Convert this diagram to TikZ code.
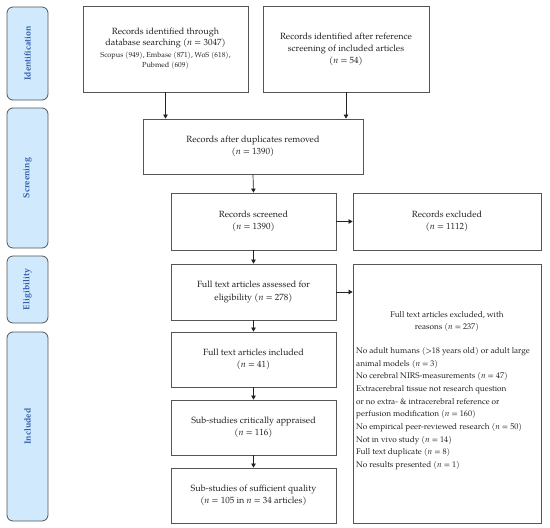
\documentclass[tikz,border=0pt]{standalone}
\usepackage{fontspec}
\setmainfont{TeX Gyre Pagella}
\usetikzlibrary{arrows.meta}
\definecolor{sidefill}{HTML}{D0E9FC}
\definecolor{sidetext}{HTML}{2F5AA8}
\definecolor{edge}{HTML}{555555}
\definecolor{ink}{HTML}{222222}
\tikzset{
  box/.style={draw=edge, line width=0.8pt, fill=white, align=center, text=ink,
    font=\fontsize{9}{12.6}\selectfont, inner sep=1pt},
  side/.style={draw=edge, line width=0.8pt, fill=sidefill, rounded corners=6pt,
    minimum width=41pt},
  sidetxt/.style={rotate=90, text=sidetext, font=\fontsize{8.8}{10}\selectfont\bfseries},
  flow/.style={draw=ink, line width=0.7pt, -{Triangle[length=4pt,width=4.5pt]}},
  plain/.style={align=center, text=ink, font=\fontsize{8.2}{12.6}\selectfont, inner sep=0pt},
  list/.style={align=left, text=ink, font=\fontsize{8.2}{12.7}\selectfont, inner sep=0pt}
}
\begin{document}
\begin{tikzpicture}[x=1pt,y=-1pt]
\useasboundingbox (0,0) rectangle (550,528);
% side labels
\node[side, minimum height=93pt] (s1) at (27.5,53.5) {};
\node[sidetxt] (s1t) at (s1.center) {Identification};
\node[side, minimum height=140pt] (s2) at (27.5,178) {};
\node[sidetxt] (s2t) at (s2.center) {Screening};
\node[side, minimum height=67pt] (s3) at (27.5,289.5) {};
\node[sidetxt] (s3t) at (s3.center) {Eligibility};
\node[side, minimum height=189pt] (s4) at (27.5,426.5) {};
\node[sidetxt] (s4t) at (s4.center) {Included};
% boxes
\node[box, minimum width=165pt, minimum height=86pt, font=\fontsize{9}{10.8}\selectfont] (b1) at (165.5,49) {Records identified through\\database searching (\textit{n} = 3047)\\[0.6pt]{\fontsize{7.3}{11}\selectfont Scopus (949), Embase (871), WoS (618),}\\[-0.2pt]{\fontsize{7.3}{11}\selectfont Pubmed (609)}};
\node[box, minimum width=166pt, minimum height=86pt, font=\fontsize{9}{12}\selectfont] (b2) at (346,49) {Records identified after reference\\screening of included articles\\(\textit{n} = 54)};
\node[box, minimum width=220pt, minimum height=55pt] (b3) at (253,146.5) {Records after duplicates removed\\(\textit{n} = 1390)};
\node[box, minimum width=165pt, minimum height=57pt] (b4) at (253.5,221.5) {Records screened\\(\textit{n} = 1390)};
\node[box, minimum width=188pt, minimum height=57pt] (b5) at (447,221.5) {Records excluded\\(\textit{n} = 1112)};
\node[box, minimum width=165pt, minimum height=56pt] (b6) at (253.5,292) {Full text articles assessed for\\eligibility (\textit{n} = 278)};
\node[box, minimum width=188pt, minimum height=259pt] (b7) at (447,393.5) {};
\node[plain] (b7h) at (447,321.5) {Full text articles excluded, with\\reasons (\textit{n} = 237)};
\node[list, anchor=north west] (b7l) at (356,347) {No adult humans (\textgreater18 years old) or adult large\\animal models (\textit{n} = 3)\\
No cerebral NIRS-measurements (\textit{n} = 47)\\
Extracerebral tissue not research question\\or no extra- \& intracerebral reference or\\perfusion modification (\textit{n} = 160)\\
No empirical peer-reviewed research (\textit{n} = 50)\\
Not in vivo study (\textit{n} = 14)\\
Full text duplicate (\textit{n} = 8)\\
No results presented (\textit{n} = 1)};
\node[box, minimum width=165pt, minimum height=55pt] (b8) at (253.5,359.5) {Full text articles included\\(\textit{n} = 41)};
\node[box, minimum width=165pt, minimum height=55pt] (b9) at (253.5,427.5) {Sub-studies critically appraised\\(\textit{n} = 116)};
\node[box, minimum width=165pt, minimum height=55pt] (b10) at (253.5,495.5) {Sub-studies of sufficient quality\\(\textit{n} = 105 in \textit{n} = 34 articles)};
% connectors
\draw[flow] (b1.south) -- (b1.south |- b3.north);
\draw[flow] (b2.south) -- (b2.south |- b3.north);
\draw[flow] (b3.south) -- (b4.north);
\draw[flow] (b4.east) -- (b5.west);
\draw[flow] (b4.south) -- (b6.north);
\draw[flow] (b6.east) -- (b6.east -| b7.west);
\draw[flow] (b6.south) -- (b8.north);
\draw[flow] (b8.south) -- (b9.north);
\draw[flow] (b9.south) -- (b10.north);
\end{tikzpicture}
\end{document}
